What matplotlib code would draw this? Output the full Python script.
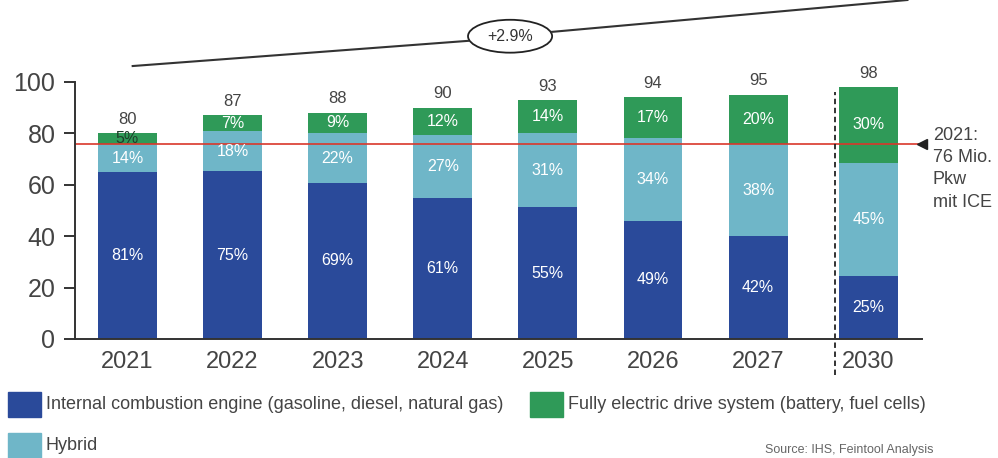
import numpy as np
import matplotlib.pyplot as plt
from matplotlib import font_manager
from matplotlib.patches import Ellipse, Rectangle

# narrow sans if available, otherwise Liberation Sans
installed = {f.name for f in font_manager.fontManager.ttflist}
base_font = 'Liberation Sans Narrow' if 'Liberation Sans Narrow' in installed else 'Liberation Sans'
plt.rcParams['font.family'] = [base_font, 'DejaVu Sans']

# Vehicle production (million units) and drive-system shares per year
years = ['2021', '2022', '2023', '2024', '2025', '2026', '2027', '2030']
totals = [80, 87, 88, 90, 93, 94, 95, 98]
ice_share = [81, 75, 69, 61, 55, 49, 42, 25]
hybrid_share = [14, 18, 22, 27, 31, 34, 38, 45]
electric_share = [5, 7, 9, 12, 14, 17, 20, 30]
ice_2021 = 76
cagr_label = '+2.9%'

c_ice = '#2a4a9a'
c_hyb = '#6fb6c8'
c_ele = '#2f9a58'
c_txt = '#444444'

x = np.array([0, 1, 2, 3, 4, 5, 6, 7.05])
tot = np.array(totals, dtype=float)
ice = tot * np.array(ice_share) / 100
hyb = tot * np.array(hybrid_share) / 100
ele = tot * np.array(electric_share) / 100

fig = plt.figure(figsize=(9.98, 4.58), dpi=100)
ax = fig.add_axes([0.075, 0.26, 0.849, 0.74])
ax.set_xlim(-0.5, 7.56)
ax.set_ylim(0, 131.9)

w = 0.56
ax.bar(x, ice, w, color=c_ice)
ax.bar(x, hyb, w, bottom=ice, color=c_hyb)
ax.bar(x, ele, w, bottom=ice + hyb, color=c_ele)

for i in range(len(x)):
    ax.text(x[i], ice[i] / 2, f'{ice_share[i]}%', ha='center', va='center',
            color='white', fontsize=11.5)
    ax.text(x[i], ice[i] + hyb[i] / 2, f'{hybrid_share[i]}%', ha='center',
            va='center', color='white', fontsize=11.5)
    ecol = '#1e3d2a' if i == 0 else 'white'
    ax.text(x[i], ice[i] + hyb[i] + ele[i] / 2, f'{electric_share[i]}%',
            ha='center', va='center', color=ecol, fontsize=11.5)
    ax.text(x[i], tot[i] + 2.5, str(totals[i]), ha='center', va='bottom',
            color=c_txt, fontsize=12)

# 2021 ICE reference line
ax.axhline(ice_2021, color='#d9372b', lw=1.2)
ax.plot([7.56], [ice_2021], marker='<', color='#222222', markersize=7,
        clip_on=False)
ax.text(7.66, ice_2021 + 6.5, '2021:\n76 Mio.\nPkw\nmit ICE', ha='left', va='top',
        color=c_txt, fontsize=13, linespacing=1.4)

# separator before the 2030 forecast
ax.plot([6.73, 6.73], [-14, 96], ls=(0, (3, 2)), color='#222222', lw=1.3,
        clip_on=False)

# growth trend line with CAGR bubble
ax.plot([0.05, 3.24], [106.2, 116.0], color='#333333', lw=1.5, clip_on=False)
ax.plot([4.04, 7.42], [119.5, 131.9], color='#333333', lw=1.5, clip_on=False)
ax.add_patch(Ellipse((3.64, 117.8), 0.8, 12.8, fill=False, ec='#222222',
                     lw=1.3, clip_on=False))
ax.text(3.64, 117.8, cagr_label, ha='center', va='center', color='#333333',
        fontsize=11.5)

for s in ['top', 'right']:
    ax.spines[s].set_visible(False)
ax.spines['left'].set_bounds(0, 100)
for s in ['left', 'bottom']:
    ax.spines[s].set_color('#333333')
    ax.spines[s].set_linewidth(1.4)
ax.set_yticks([0, 20, 40, 60, 80, 100])
ax.tick_params(axis='y', length=8, width=1.4, color='#333333',
               labelsize=18, labelcolor=c_txt, pad=6)
ax.set_xticks(x)
ax.set_xticklabels(years)
ax.tick_params(axis='x', length=0, labelsize=17, labelcolor=c_txt, pad=9)

# legend drawn below the plot
legend = [(c_ice, 'Internal combustion engine (gasoline, diesel, natural gas)', 0.008, 0.090),
          (c_ele, 'Fully electric drive system (battery, fuel cells)', 0.531, 0.090),
          (c_hyb, 'Hybrid', 0.008, 0.000)]
for col, lab, lx, ly in legend:
    fig.patches.append(Rectangle((lx, ly), 0.033, 0.055, color=col,
                                 transform=fig.transFigure))
    fig.text(lx + 0.038, ly + 0.027, lab, ha='left', va='center',
             color=c_txt, fontsize=13)
fig.text(0.935, 0.018, 'Source: IHS, Feintool Analysis', ha='right',
         va='center', color='#666666', fontsize=9)

fig.savefig('out.png', dpi=100)
